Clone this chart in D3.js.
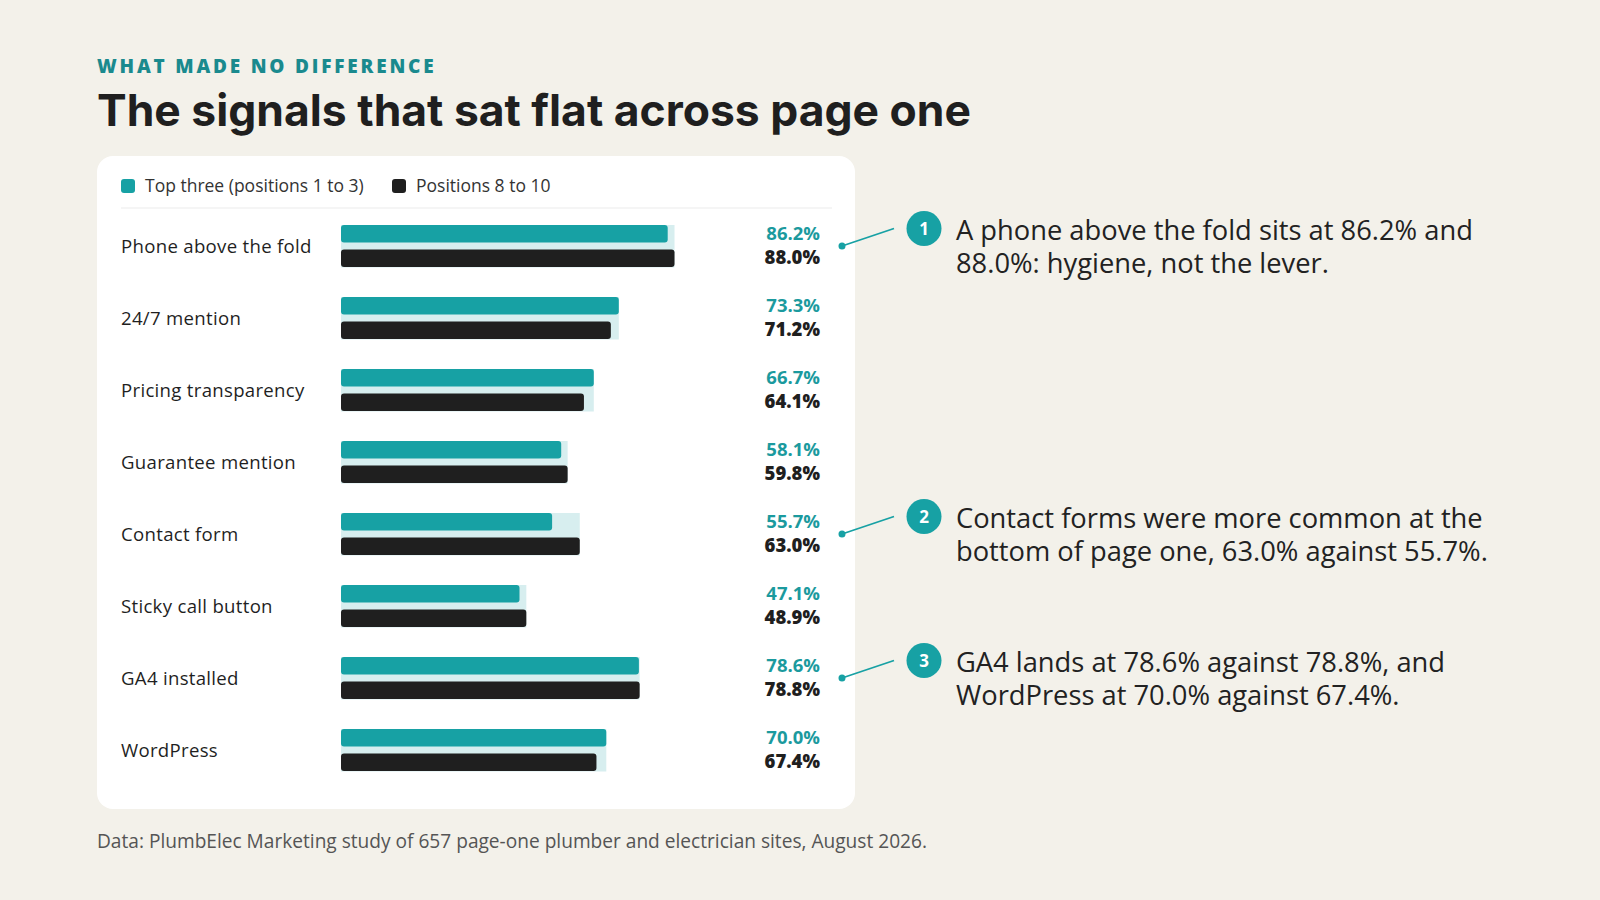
<!DOCTYPE html>
<html><head><meta charset="utf-8">
<script src="https://cdn.jsdelivr.net/npm/d3@7"></script>
<style>body{margin:0;background:#f3f1ea;} svg{display:block}</style>
</head><body>
<svg id="chart" width="1600" height="900"></svg>
<script>
// ---- data ----
const categories = ["Phone above the fold","24/7 mention","Pricing transparency","Guarantee mention","Contact form","Sticky call button","GA4 installed","WordPress"];
const topThree = [86.2, 73.3, 66.7, 58.1, 55.7, 47.1, 78.6, 70.0];
const positions8to10 = [88.0, 71.2, 64.1, 59.8, 63.0, 48.9, 78.8, 67.4];
const seriesNames = ["Top three (positions 1 to 3)", "Positions 8 to 10"];
const annotationRows = ["Phone above the fold", "Contact form", "GA4 installed"];
const annotationNumbers = ["1", "2", "3"];
const annotationLines = [
  ["A phone above the fold sits at 86.2% and", "88.0%: hygiene, not the lever."],
  ["Contact forms were more common at the", "bottom of page one, 63.0% against 55.7%."],
  ["GA4 lands at 78.6% against 78.8%, and", "WordPress at 70.0% against 67.4%."]
];
const kicker = "WHAT MADE NO DIFFERENCE";
const title = "The signals that sat flat across page one";
const footnote = "Data: PlumbElec Marketing study of 657 page-one plumber and electrician sites, August 2026.";

// ---- styles ----
const TEAL = "#17a1a4", TEAL_TXT = "#1b9a9e", DARK = "#1f1f1f", TRACK = "#d7eeef", BG = "#f3f1ea";
const FONT = "'Open Sans', 'Noto Sans', sans-serif";
const TFONT = "Inter, 'Open Sans', sans-serif";

const svg = d3.select("#chart");
svg.append("rect").attr("width",1600).attr("height",900).attr("fill",BG);

function fitSize(text, weight, family, baseSize, target, spacing){
  const t = svg.append("text").attr("font-family",family).attr("font-weight",weight)
    .attr("font-size",baseSize).attr("letter-spacing",spacing||0).text(text);
  const w = t.node().getComputedTextLength();
  t.remove();
  return +(baseSize*target/w).toFixed(2);
}

// Header
svg.append("text").attr("x",97).attr("y",72.5).attr("font-family",FONT).attr("font-weight",800)
  .attr("font-size",19).attr("letter-spacing",2.8).attr("fill","#1a8a8e").text(kicker);
svg.append("text").attr("x",97).attr("y",126).attr("font-family",TFONT).attr("font-weight",700)
  .attr("font-size",fitSize(title,700,TFONT,46,874)).attr("fill",DARK).text(title);

// Card
svg.append("rect").attr("x",97).attr("y",156).attr("width",758).attr("height",653).attr("rx",16).attr("fill","#ffffff");

// Legend
const legend = svg.append("g");
const legX = [121, 392];
seriesNames.forEach((s,i)=>{
  legend.append("rect").attr("x",legX[i]).attr("y",179).attr("width",14).attr("height",14).attr("rx",3)
    .attr("fill", i===0?TEAL:DARK);
  legend.append("text").attr("x",legX[i]+24).attr("y",192).attr("font-family",FONT).attr("font-size",17.5)
    .attr("fill","#333").text(s);
});
svg.append("line").attr("x1",121).attr("x2",832).attr("y1",208).attr("y2",208).attr("stroke","#ebebeb").attr("stroke-width",1.2);

// Scales
const x = d3.scaleLinear().domain([0,100]).range([341,720]);
const y = d3.scaleBand().domain(categories).range([210,786]);
const cy = c => y(c) + y.bandwidth()/2;

const catSize = fitSize(categories[0],500,FONT,18,191,0.3);
const rows = svg.append("g").selectAll("g").data(categories).join("g");
rows.append("rect").attr("x",x(0)).attr("y",(c)=>cy(c)-21).attr("height",42.5)
  .attr("width",(c,i)=>x(Math.max(topThree[i],positions8to10[i]))-x(0)).attr("fill",TRACK);
rows.append("rect").attr("x",x(0)).attr("y",(c)=>cy(c)-21).attr("height",17.5).attr("rx",3)
  .attr("width",(c,i)=>x(topThree[i])-x(0)).attr("fill",TEAL);
rows.append("rect").attr("x",x(0)).attr("y",(c)=>cy(c)+3.5).attr("height",17.5).attr("rx",3)
  .attr("width",(c,i)=>x(positions8to10[i])-x(0)).attr("fill",DARK);
rows.append("text").attr("x",121).attr("y",c=>cy(c)+6.5).attr("font-family",FONT).attr("font-weight",500)
  .attr("font-size",catSize).attr("letter-spacing",0.3).attr("fill",DARK).text(c=>c);
rows.append("text").attr("x",820).attr("y",c=>cy(c)-6).attr("text-anchor","end").attr("font-family",FONT)
  .attr("font-weight",700).attr("font-size",18.5).attr("fill",TEAL_TXT).text((c,i)=>topThree[i].toFixed(1)+"%");
rows.append("text").attr("x",820).attr("y",c=>cy(c)+18).attr("text-anchor","end").attr("font-family",FONT)
  .attr("font-weight",800).attr("font-size",18.5).attr("fill",DARK).text((c,i)=>positions8to10[i].toFixed(1)+"%");

// Annotations
const annSize = fitSize(annotationLines[0][0],400,FONT,26,517);
annotationRows.forEach((r,i)=>{
  const yc = cy(r);
  const circY = yc - 17.5;
  const g = svg.append("g");
  g.append("line").attr("x1",842).attr("y1",yc).attr("x2",894).attr("y2",circY).attr("stroke",TEAL).attr("stroke-width",1.8);
  g.append("circle").attr("cx",842).attr("cy",yc).attr("r",3.5).attr("fill",TEAL);
  g.append("circle").attr("cx",924).attr("cy",circY).attr("r",17.5).attr("fill",TEAL);
  g.append("text").attr("x",924).attr("y",circY+6).attr("text-anchor","middle").attr("font-family",FONT)
    .attr("font-weight",700).attr("font-size",17).attr("fill","#fff").text(annotationNumbers[i]);
  annotationLines[i].forEach((t,j)=>{
    g.append("text").attr("x",956).attr("y",circY+11+j*33.5).attr("font-family",FONT).attr("font-size",annSize)
      .attr("fill","#222").text(t);
  });
});

// Footnote
svg.append("text").attr("x",97).attr("y",848).attr("font-family",FONT)
  .attr("font-size",fitSize(footnote,400,FONT,18,831)).attr("fill","#555").text(footnote);
</script>
</body></html>
